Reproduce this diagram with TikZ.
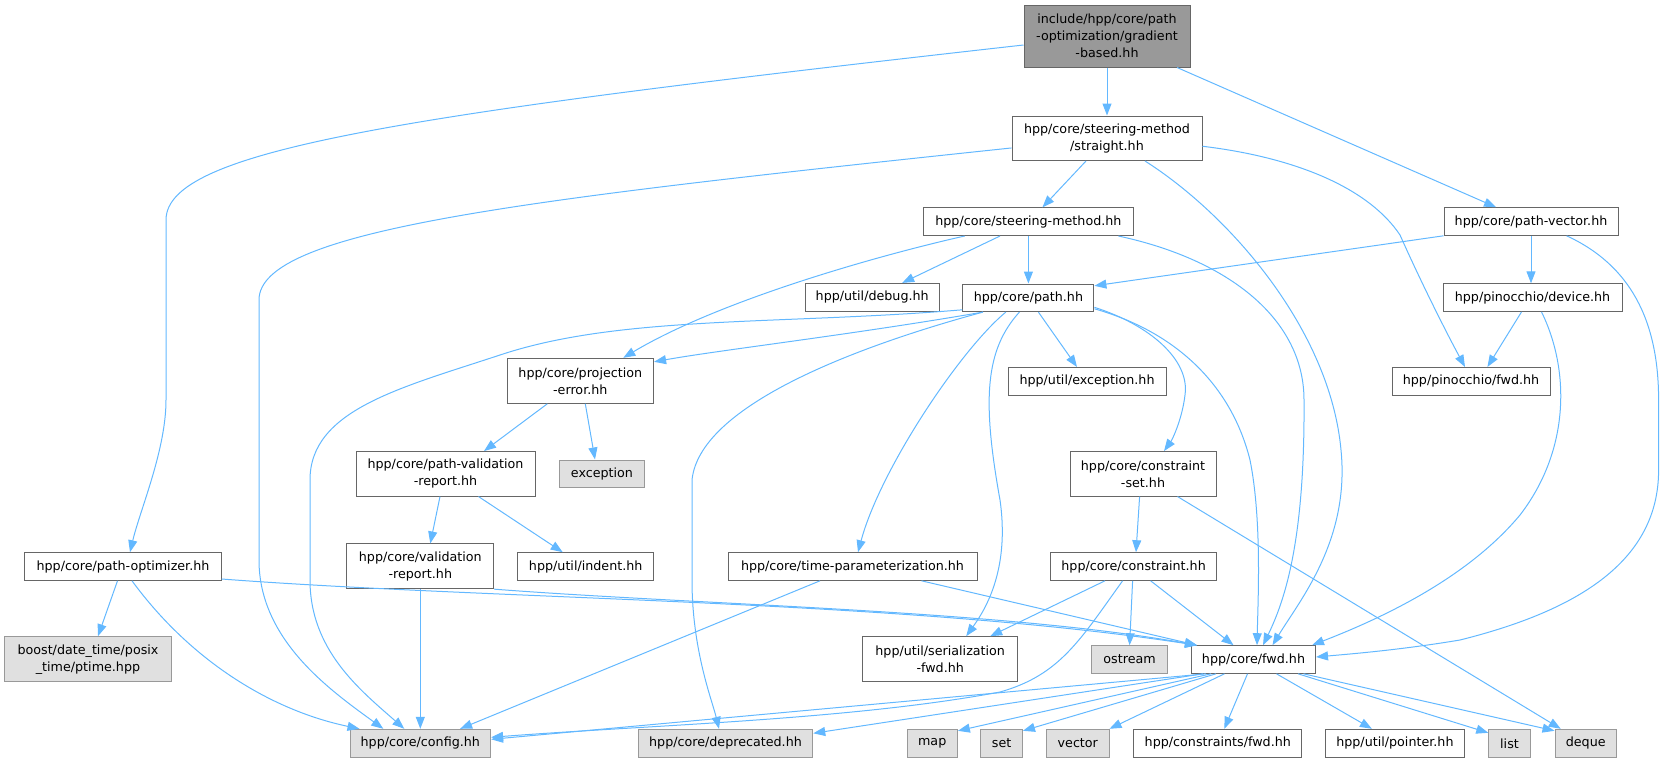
\documentclass[tikz,border=0pt]{standalone}
\usepackage{fontspec}
\setmainfont{DejaVu Sans}
\usepackage{tikz}
\usetikzlibrary{arrows.meta, positioning}
\definecolor{dox_edge}{HTML}{63B8FF}
\definecolor{dox_border}{HTML}{666666}
\definecolor{dox_sysborder}{HTML}{999999}
\definecolor{dox_sysfill}{HTML}{E0E0E0}
\colorlet{dox_rootfill}{dox_sysborder}
\tikzset{
  header/.style={rectangle,draw=dox_border,line width=1pt,fill=white,inner sep=0pt,minimum height=27.6pt,align=center,font=\fontsize{12.7}{17}\selectfont},
  header_two/.style={header,minimum height=44.5pt},
  sysheader/.style={header,draw=dox_sysborder,fill=dox_sysfill},
  mainheader/.style={header,fill=dox_rootfill},
  include/.style={draw=dox_edge,line width=1pt,-{Triangle[length=12pt,width=9pt]}},
}

\begin{document}
\begin{tikzpicture}[x=1pt,y=-1pt]
	    \useasboundingbox (0,0) rectangle (1665,763);
	    \node[mainheader,minimum width=166pt,minimum height=62pt] (ROOT) at (1107,36) {include/hpp/core/path\\-optimization/gradient\\-based.hh};
	    \node[header_two,minimum width=190pt,below=48pt of ROOT] (STRAIGHT) {hpp/core/steering-method\\/straight.hh};
	    \node[header,minimum width=209.3pt] (STEER) at (1028.4,221.7) {hpp/core/steering-method.hh};
	    \node[header,minimum width=134.4pt] (DEBUG) at (872.2,297.2) {hpp/util/debug.hh};
	    \node[header,minimum width=131pt,below=47.5pt of STEER] (PATH) {hpp/core/path.hh};
	    \node[header,minimum width=174pt] (PATHVEC) at (1531,221.5) {hpp/core/path-vector.hh};
	    \node[header,minimum width=179pt,below=47.5pt of PATHVEC,xshift=1.5pt] (DEVICE) {hpp/pinocchio/device.hh};
	    \node[header_two,minimum width=146.6pt,minimum height=45pt] (PROJERR) at (580.3,380.8) {hpp/core/projection\\-error.hh};
	    \node[header,minimum width=158pt] (UEXC) at (1087,381.3) {hpp/util/exception.hh};
	    \node[header,minimum width=158pt] (PINFWD) at (1471,381.3) {hpp/pinocchio/fwd.hh};
	    \node[header_two,minimum width=179pt] (PVREPORT) at (445.5,473.8) {hpp/core/path-validation\\-report.hh};
	    \node[sysheader,minimum width=85.8pt] (EXCEPTION) at (602,473.8) {exception};
	    \node[header_two,minimum width=146pt] (CSET) at (1143,473.8) {hpp/core/constraint\\-set.hh};
	    \node[header,minimum width=196.3pt] (OPTIMIZER) at (123,566.5) {hpp/core/path-optimizer.hh};
	    \node[header_two,minimum width=146.7pt,minimum height=44.7pt] (VREPORT) at (420.3,566.3) {hpp/core/validation\\-report.hh};
	    \node[header,minimum width=135.8pt] (INDENT) at (585.7,566.5) {hpp/util/indent.hh};
	    \node[header,minimum width=249pt] (TIMEPAR) at (852.5,566.5) {hpp/core/time-parameterization.hh};
	    \node[header,minimum width=166.4pt] (CONSTRAINT) at (1133.6,566.5) {hpp/core/constraint.hh};
	    \node[sysheader,minimum width=166.8pt,minimum height=45pt] (PTIME) at (88,659.2) {boost/date\_time/posix\\\_time/ptime.hpp};
	    \node[header_two,minimum width=154.5pt,minimum height=45pt] (SERIAL) at (940.2,659.2) {hpp/util/serialization\\-fwd.hh};
	    \node[sysheader,minimum width=75.7pt] (OSTREAM) at (1129.6,659.5) {ostream};
	    \node[header,minimum width=124pt] (FWD) at (1253.5,659.5) {hpp/core/fwd.hh};
	    \node[sysheader,minimum width=140.6pt,minimum height=28pt] (CONFIG) at (420.3,743.3) {hpp/core/config.hh};
	    \node[sysheader,minimum width=174.5pt,minimum height=28pt] (DEPREC) at (725.5,743.3) {hpp/core/deprecated.hh};
	    \node[sysheader,minimum width=50.4pt,minimum height=28pt] (MAP) at (932.2,743.3) {map};
	    \node[sysheader,minimum width=41.7pt,minimum height=28pt] (SET) at (1001.6,743.3) {set};
	    \node[sysheader,minimum width=62.4pt,minimum height=28pt] (VECTOR) at (1077.8,743.3) {vector};
	    \node[header,minimum width=168pt,minimum height=28pt] (CFWD) at (1217.8,743.3) {hpp/constraints/fwd.hh};
	    \node[header,minimum width=139.7pt,minimum height=28pt] (POINTER) at (1394.9,743.3) {hpp/util/pointer.hh};
	    \node[sysheader,minimum width=41.5pt,minimum height=28pt] (LIST) at (1509.5,743.3) {list};
	    \node[sysheader,minimum width=61.4pt,minimum height=28pt] (DEQUE) at (1585.7,743.3) {deque};

	    \draw[include] ([yshift=-9pt]ROOT.west) .. controls (400,115) and (166,150) .. (166,220) -- (166,400) .. controls (166,450) and (140,510) .. ([xshift=7pt]OPTIMIZER.north);
	    \draw (ROOT) edge[include] (STRAIGHT);
	    \draw ([xshift=70pt]ROOT.south) edge[include] ([xshift=-35pt]PATHVEC.north);

	    \draw[include] ([yshift=-9.7pt]STRAIGHT.west) .. controls (520,200) and (259,230) .. (259,300) -- (259,560) .. controls (259,640) and (330,690) .. ([xshift=-37pt]CONFIG.north);
	    \draw ([xshift=-21pt]STRAIGHT.south) edge[include] ([xshift=14pt]STEER.north);
	    \draw[include] ([xshift=38pt]STRAIGHT.south) .. controls (1230,215) and (1330,330) .. (1341,450) .. controls (1350,540) and (1300,600) .. ([xshift=19pt]FWD.north);
	    \draw[include] ([yshift=-8pt]STRAIGHT.east) .. controls (1300,158) and (1370,190) .. (1400,235) .. controls (1420,280) and (1445,330) .. ([xshift=-6pt]PINFWD.north);

	    \draw[include] ([xshift=-63.7pt]STEER.south) .. controls (880,255) and (720,300) .. ([xshift=43pt]PROJERR.north);
	    \draw ([xshift=-28.4pt]STEER.south) edge[include] ([xshift=30pt]DEBUG.north);
	    \draw (STEER) edge[include] (PATH);
	    \draw[include] ([xshift=90pt]STEER.south) .. controls (1230,260) and (1304,320) .. (1304,400) .. controls (1305,540) and (1285,600) .. ([xshift=9.5pt]FWD.north);

	    \draw[include] ([xshift=-45.5pt]PATH.south) .. controls (850,335) and (720,350) .. ([yshift=-4pt]PROJERR.north east);
	    \draw[include] ([yshift=-12pt]PATH.west) .. controls (780,325) and (620,315) .. (500,355) .. controls (400,388) and (310,410) .. (310,480) -- (310,580) .. controls (310,650) and (360,690) .. ([xshift=-16pt]CONFIG.north);
	    \draw[include] ([xshift=-45.5pt]PATH.south) .. controls (880,340) and (700,400) .. (692,480) -- (692,580) .. controls (692,650) and (712,700) .. ([xshift=-6.5pt]DEPREC.north);
	    \draw[include] ([xshift=-22.6pt]PATH.south) .. controls (960,350) and (880,470) .. ([xshift=5.5pt]TIMEPAR.north);
	    \draw[include] ([xshift=-9pt]PATH.south) .. controls (985,350) and (982,400) .. (1000,500) .. controls (1010,570) and (985,610) .. ([xshift=26pt]SERIAL.north);
	    \draw ([xshift=10pt]PATH.south) edge[include] ([xshift=-10pt]UEXC.north);
	    \draw[include] ([yshift=-9.5pt]PATH.east) .. controls (1150,325) and (1190,360) .. (1185,395) .. controls (1182,420) and (1172,440) .. ([xshift=21pt]CSET.north);
	    \draw[include] ([yshift=-11pt]PATH.east) .. controls (1170,330) and (1230,380) .. (1250,460) .. controls (1262,520) and (1258,600) .. ([xshift=3.5pt]FWD.north);

	    \draw (PATHVEC.south west) edge[include] ([yshift=12pt]PATH.east);
	    \draw (PATHVEC.south) edge[include] (PATHVEC.south |- DEVICE.north);
	    \draw[include] ([xshift=35.6pt]PATHVEC.south) .. controls (1630,265) and (1658.6,320) .. (1658.6,400) -- (1658.6,470) .. controls (1658.6,560) and (1580,610) .. (1460,640) .. controls (1400,650) and (1350,654) .. ([yshift=2.5pt]FWD.east);
	    \draw ([xshift=-11pt]DEVICE.south) edge[include] ([xshift=16.4pt]PINFWD.north);
	    \draw[include] ([xshift=9pt]DEVICE.south) .. controls (1570,370) and (1570,450) .. (1520,515) .. controls (1470,575) and (1390,615) .. ([xshift=-4pt]FWD.north east);

	    \draw ([xshift=-33pt]PROJERR.south) edge[include] ([xshift=38.5pt]PVREPORT.north);
	    \draw ([xshift=5pt]PROJERR.south) edge[include] ([xshift=-7pt]EXCEPTION.north);
	    \draw ([xshift=-5.5pt]PVREPORT.south) edge[include] ([xshift=10pt]VREPORT.north);
	    \draw ([xshift=33pt]PVREPORT.south) edge[include] ([xshift=-23pt]INDENT.north);
	    \draw (VREPORT) edge[include] (CONFIG);
	    \draw[include] (VREPORT.south east) .. controls (700,605) and (1000,610) .. ([xshift=6pt]FWD.north west);

	    \draw ([xshift=69pt]TIMEPAR.south) edge[include] ([xshift=6pt]FWD.north west);
	    \draw ([xshift=-32.5pt]TIMEPAR.south) edge[include] ([xshift=-31pt]CONFIG.north east);
	    \draw ([xshift=-5.5pt]OPTIMIZER.south) edge[include] ([xshift=10pt]PTIME.north);
	    \draw[include] ([xshift=9pt]OPTIMIZER.south) .. controls (190,660) and (270,710) .. ([xshift=10pt]CONFIG.north west);
	    \draw[include] ([yshift=-12.5pt]OPTIMIZER.east) .. controls (500,600) and (900,600) .. ([xshift=6pt]FWD.north west);

	    \draw ([xshift=-28.6pt]CONSTRAINT.south) edge[include] ([xshift=50pt]SERIAL.north);
	    \draw ([xshift=-1pt]CONSTRAINT.south) edge[include] (OSTREAM.north);
	    \draw ([xshift=17pt]CONSTRAINT.south) edge[include] ([xshift=-20pt]FWD.north);
	    \draw[include] ([xshift=-11pt]CONSTRAINT.south) .. controls (1080,640) and (1060,675) .. (1000,692) .. controls (850,720) and (650,725) .. ([yshift=6pt]CONFIG.east);
	    \draw ([xshift=-3.4pt]CSET.south) edge[include] ([xshift=2.4pt]CONSTRAINT.north);
	    \draw ([xshift=34.5pt]CSET.south) edge[include] ([xshift=-25pt]DEQUE.north);

	    \draw ([xshift=15pt]FWD.south west) edge[include] ([yshift=4pt]CONFIG.east);
	    \draw ([xshift=12pt]FWD.south west) edge[include] ([yshift=10pt]DEPREC.east);
	    \draw ([xshift=20pt]FWD.south west) edge[include] ([yshift=-2pt]MAP.north east);
	    \draw ([xshift=25pt]FWD.south west) edge[include] ([yshift=-2pt]SET.north east);
	    \draw ([xshift=-29pt]FWD.south) edge[include] (VECTOR.north east);
	    \draw ([xshift=-6pt]FWD.south) edge[include] ([xshift=6.5pt]CFWD.north);
	    \draw ([xshift=23pt]FWD.south) edge[include] ([xshift=-23pt]POINTER.north);
	    \draw ([xshift=44.5pt]FWD.south) edge[include] ([yshift=-4pt]LIST.north west);
	    \draw ([xshift=50pt]FWD.south) edge[include] ([yshift=-2pt]DEQUE.north west);
	\end{tikzpicture}
\end{document}
